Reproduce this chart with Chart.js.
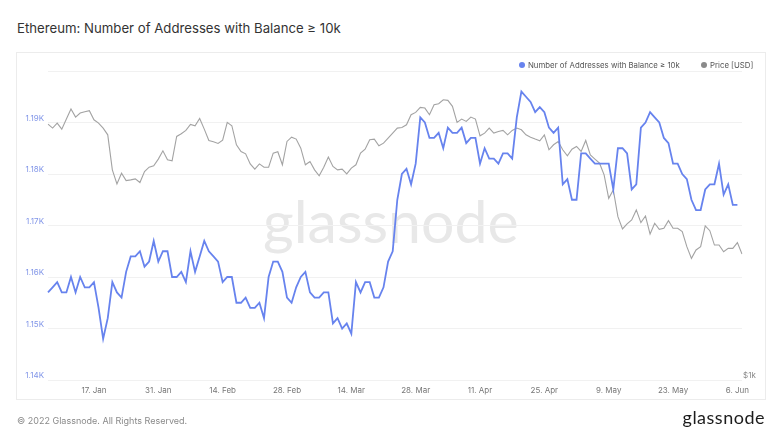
<!DOCTYPE html>
<html>
<head>
<meta charset="utf-8">
<script src="https://cdn.jsdelivr.net/npm/chart.js@4.4.1/dist/chart.umd.min.js"></script>
<style>
  html, body { margin: 0; padding: 0; background: #fff; }
  body { width: 782px; height: 440px; position: relative; overflow: hidden; font-family: Inter, "Noto Sans", sans-serif; }
  #title { position: absolute; left: 17px; top: 19.5px; font-size: 13.2px; color: #333; white-space: nowrap; line-height: normal; }
  #panel { position: absolute; left: 16px; top: 52px; width: 748px; height: 346px; border: 1px solid #ececec; }
  #watermark { position: absolute; left: 263px; top: 185px; font-family: Lato, sans-serif; font-size: 59px; color: #e8e8e8; white-space: nowrap; line-height: normal; }
  #chart { position: absolute; left: 0; top: 0; }
  .leg { position: absolute; top: 59px; font-size: 7.8px; color: #555; white-space: nowrap; line-height: 12px; }
  .dot { position: absolute; width: 6.5px; height: 6.5px; border-radius: 50%; top: 61.5px; }
  #copy { position: absolute; left: 17px; top: 415px; font-size: 9px; color: #8a8a8a; white-space: nowrap; line-height: 12px; }
  #logo { position: absolute; right: 17px; top: 406px; font-family: Lato, sans-serif; font-size: 18px; color: #1c1c1c; white-space: nowrap; line-height: normal; letter-spacing: 0.5px; }
</style>
</head>
<body>
<div id="title">Ethereum: Number of Addresses with Balance ≥ 10k</div>
<div id="panel"></div>
<div id="watermark">glassnode</div>
<canvas id="chart" width="782" height="440"></canvas>
<div class="dot" style="left:518.5px;background:#6783ee;"></div>
<div class="leg" style="left:528px;">Number of Addresses with Balance ≥ 10k</div>
<div class="dot" style="left:700.5px;background:#8a8a8a;"></div>
<div class="leg" style="left:710px;">Price [USD]</div>
<div id="copy">© 2022 Glassnode. All Rights Reserved.</div>
<div id="logo">glassnode</div>
<script>
const categories = [
"7. Jan","8. Jan","9. Jan","10. Jan","11. Jan","12. Jan","13. Jan","14. Jan","15. Jan","16. Jan","17. Jan","18. Jan","19. Jan","20. Jan","21. Jan","22. Jan","23. Jan","24. Jan","25. Jan","26. Jan","27. Jan","28. Jan","29. Jan","30. Jan","31. Jan",
"1. Feb","2. Feb","3. Feb","4. Feb","5. Feb","6. Feb","7. Feb","8. Feb","9. Feb","10. Feb","11. Feb","12. Feb","13. Feb","14. Feb","15. Feb","16. Feb","17. Feb","18. Feb","19. Feb","20. Feb","21. Feb","22. Feb","23. Feb","24. Feb","25. Feb","26. Feb","27. Feb","28. Feb",
"1. Mar","2. Mar","3. Mar","4. Mar","5. Mar","6. Mar","7. Mar","8. Mar","9. Mar","10. Mar","11. Mar","12. Mar","13. Mar","14. Mar","15. Mar","16. Mar","17. Mar","18. Mar","19. Mar","20. Mar","21. Mar","22. Mar","23. Mar","24. Mar","25. Mar","26. Mar","27. Mar","28. Mar","29. Mar","30. Mar","31. Mar",
"1. Apr","2. Apr","3. Apr","4. Apr","5. Apr","6. Apr","7. Apr","8. Apr","9. Apr","10. Apr","11. Apr","12. Apr","13. Apr","14. Apr","15. Apr","16. Apr","17. Apr","18. Apr","19. Apr","20. Apr","21. Apr","22. Apr","23. Apr","24. Apr","25. Apr","26. Apr","27. Apr","28. Apr","29. Apr","30. Apr",
"1. May","2. May","3. May","4. May","5. May","6. May","7. May","8. May","9. May","10. May","11. May","12. May","13. May","14. May","15. May","16. May","17. May","18. May","19. May","20. May","21. May","22. May","23. May","24. May","25. May","26. May","27. May","28. May","29. May","30. May","31. May",
"1. Jun","2. Jun","3. Jun","4. Jun","5. Jun","6. Jun","7. Jun"
];

const addresses = [
1157,1158,1159,1157,1157,1160,1157,1160,1158,1158,
1159,1154,1148,1152,1159,1157,1156,1161,1164,1164,
1165,1162,1163,1167,1163,1165,1165,1160,1160,1161,
1159,1165,1161,1164,1167,1165,1164,1163,1159,1160,
1160,1155,1155,1156,1154,1154,1155,1152,1160,1163,
1163,1161,1156,1155,1158,1160,1161,1157,1156,1156,
1157,1157,1151,1152,1150,1151,1149,1159,1157,1159,
1159,1156,1156,1158,1163,1165,1175,1180,1181,1178,
1182,1191,1190,1187,1187,1188,1185,1189,1188,1188,
1189,1186,1187,1187,1182,1185,1183,1183,1182,1184,
1184,1183,1191,1196,1195,1194,1192,1193,1192,1189,
1188,1189,1178,1179,1175,1175,1184,1184,1183,1182,
1182,1182,1182,1177,1185,1185,1184,1177,1178,1189,
1190,1192,1191,1190,1187,1186,1182,1182,1180,1179,
1175,1173,1173,1177,1178,1178,1182,1176,1178,1174,
1174,null
];

const priceUsd = [
3152,3096,3166,3082,3224,3372,3253,3312,3332,3347,
3214,3166,3096,3004,2567,2410,2529,2447,2454,2465,
2425,2548,2598,2614,2694,2796,2685,2673,2982,3018,
3064,3147,3129,3233,3082,2929,2912,2890,2933,3176,
3129,2873,2788,2759,2637,2575,2637,2598,2598,2767,
2784,2626,2916,2973,2947,2830,2626,2665,2567,2499,
2598,2718,2606,2567,2575,2521,2587,2626,2767,2817,
2938,2947,2860,2894,2960,3027,3096,3105,3143,3287,
3322,3397,3387,3287,3438,3454,3516,3506,3413,3176,
3224,3190,3253,3224,2991,3027,3096,3027,3050,3064,
3004,3064,3096,3073,3004,2973,2947,2925,3004,2809,
2873,2916,2809,2734,2817,2851,2788,2929,2746,2694,
2645,2510,2259,2346,2081,1969,2014,2050,2145,2026,
2087,1925,2020,1966,1975,2044,1975,1975,1946,1819,
1726,1792,1819,1996,1954,1832,1832,1778,1805,1805,
1852,1760
];

const xTickLabels = ["17. Jan","31. Jan","14. Feb","28. Feb","14. Mar","28. Mar","11. Apr","25. Apr","9. May","23. May","6. Jun"];
const leftTicks = [1140,1150,1160,1170,1180,1190,1200];
const leftTickLabels = ["1.14K","1.15K","1.16K","1.17K","1.18K","1.19K",""];
const priceTicks = [1000];
const priceTickLabels = ["$1k"];

Chart.defaults.font.family = "Inter, 'Noto Sans', sans-serif";

new Chart(document.getElementById('chart'), {
  type: 'line',
  data: {
    labels: categories,
    datasets: [
      {
        label: 'Number of Addresses with Balance ≥ 10k',
        data: addresses,
        yAxisID: 'y',
        borderColor: '#6783ee',
        borderWidth: 1.8,
        pointRadius: 0,
        tension: 0,
        fill: false
      },
      {
        label: 'Price [USD]',
        data: priceUsd,
        yAxisID: 'price',
        borderColor: '#a3a3a3',
        borderWidth: 1.1,
        pointRadius: 0,
        tension: 0,
        fill: false
      }
    ]
  },
  options: {
    responsive: false,
    animation: false,
    devicePixelRatio: 1,
    events: [],
    layout: { padding: { left: 0, right: 0, top: 71, bottom: 0 } },
    plugins: { legend: { display: false }, tooltip: { enabled: false } },
    scales: {
      x: {
        type: 'category',
        offset: false,
        grid: { display: false, drawTicks: false },
        border: { display: false },
        ticks: {
          autoSkip: false, maxRotation: 0, minRotation: 0, padding: 6,
          color: '#777', font: { size: 8 }
        },
        afterBuildTicks: (s) => { s.ticks = s.ticks.filter(t => xTickLabels.includes(categories[t.value])); },
        afterFit: (s) => { s.height = 60; }
      },
      y: {
        type: 'linear',
        position: 'left',
        min: 1140, max: 1200,
        grid: { color: '#f1f1f1', lineWidth: 1, drawTicks: false },
        border: { display: false },
        ticks: {
          padding: 4, labelOffset: -4, color: '#8095e8', font: { size: 8 },
          callback: (v) => { const i = leftTicks.indexOf(v); return i >= 0 ? leftTickLabels[i] : ''; }
        },
        afterBuildTicks: (s) => { s.ticks = leftTicks.map(v => ({ value: v })); },
        afterFit: (s) => { s.width = 48; }
      },
      price: {
        type: 'logarithmic',
        position: 'right',
        min: 1000, max: 4000,
        grid: { display: false, drawTicks: false },
        border: { display: false },
        ticks: {
          padding: 1, labelOffset: -4, color: '#888', font: { size: 8 },
          callback: (v) => { const i = priceTicks.indexOf(v); return i >= 0 ? priceTickLabels[i] : ''; }
        },
        afterBuildTicks: (s) => { s.ticks = priceTicks.map(v => ({ value: v })); },
        afterFit: (s) => { s.width = 40; }
      }
    }
  }
});
</script>
</body>
</html>
